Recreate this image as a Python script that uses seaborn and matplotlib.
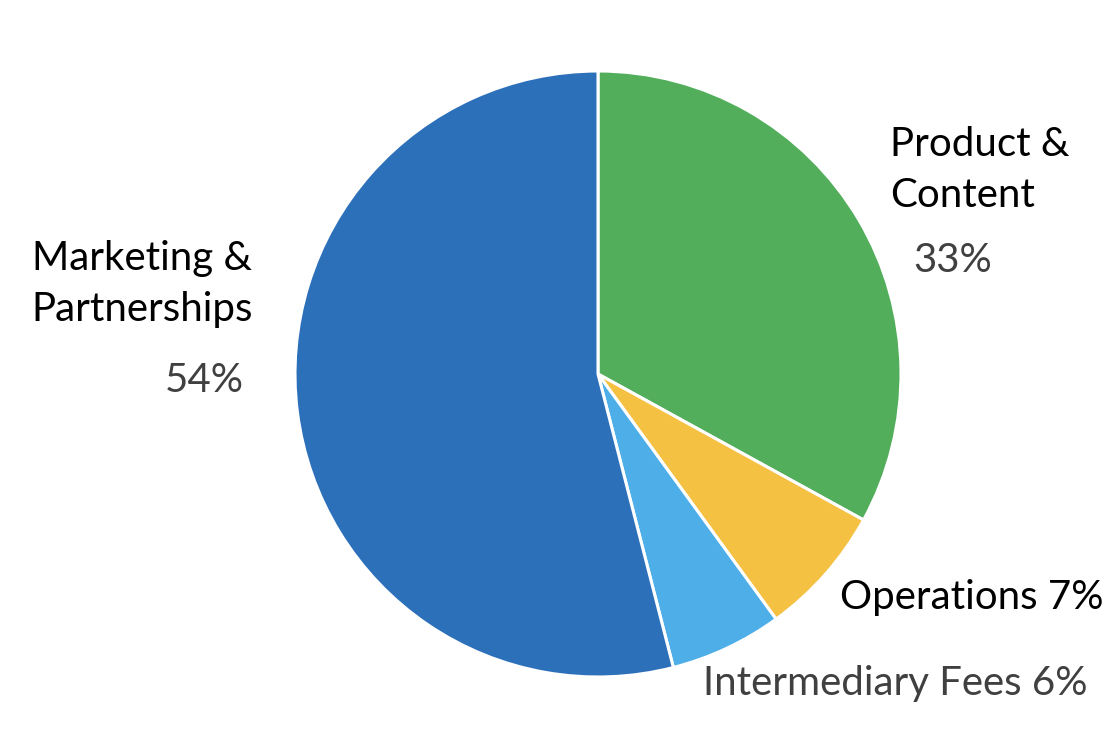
import matplotlib
matplotlib.use("Agg")
import matplotlib.pyplot as plt
import seaborn as sns

# slice data, clockwise from 12 o'clock
categories = ["Product & Content", "Operations", "Intermediary Fees", "Marketing & Partnerships"]
shares = [33, 7, 6, 54]
colors = ["#52AE5B", "#F5C142", "#4DAEE8", "#2C70BA"]

W, H = 1118, 754

sns.set_theme(style="white")
plt.rcParams["font.family"] = ["Lato", "DejaVu Sans"]

fig = plt.figure(figsize=(W / 100, H / 100), dpi=100)
ax = fig.add_axes([0, 0, 1, 1])

ax.pie(shares, colors=colors, startangle=90, counterclock=False,
       center=(598, H - 374), radius=303,
       wedgeprops=dict(edgecolor="white", linewidth=2.2))
ax.set_xlim(0, W)
ax.set_ylim(0, H)
ax.set_aspect("equal")
ax.axis("off")

black = "#000000"
grey = "#404040"
fs = 29

def label(x, y, s, color, ha="left"):
    ax.text(x, H - y, s, color=color, fontsize=fs, ha=ha, va="center",
            linespacing=1.45)

label(890, 170, "Product &\nContent", black)
label(913, 260, f"{shares[0]}%", grey)
label(840, 597, f"Operations {shares[1]}%", black)
label(703, 683, f"Intermediary Fees {shares[2]}%", grey)
label(142, 284, "Marketing &\nPartnerships", black, ha="center")
label(165, 380, f"{shares[3]}%", grey)

fig.savefig("out.png", dpi=100, facecolor="white")
